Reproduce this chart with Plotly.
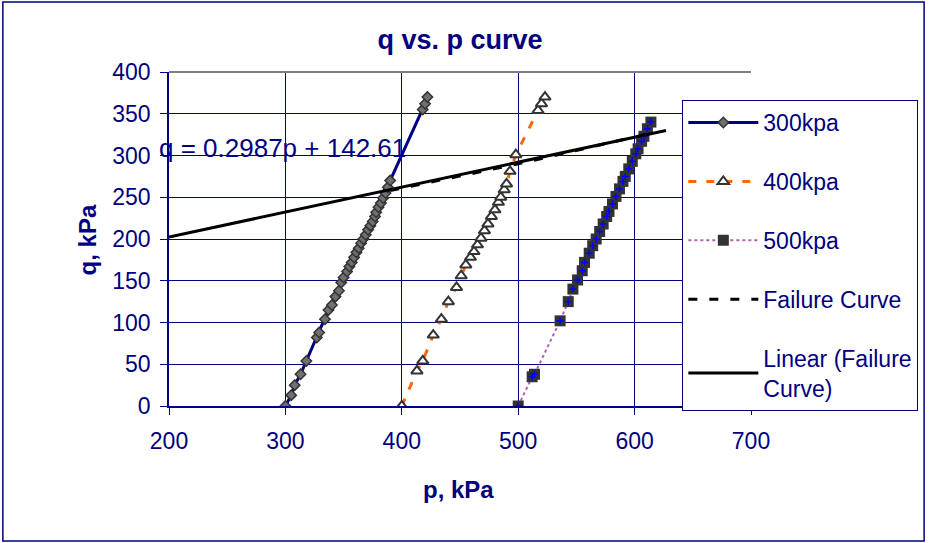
import plotly.graph_objects as go

NAVY = "#000080"
FONT = "Liberation Sans, Arial, sans-serif"

# 300 kPa stress path
p_300 = [300, 305, 308, 313, 318, 327, 329, 334, 337, 340, 343, 346, 348, 350, 353,
         355, 357, 359, 361, 363, 365, 367, 369, 371, 373, 375, 377, 378, 380, 382,
         384, 386, 388, 390, 418, 420, 422]
q_300 = [0, 13, 25, 38, 54, 82, 88, 104, 115, 121, 131, 138, 148, 154, 161,
         167, 172, 178, 184, 189, 195, 200, 205, 211, 216, 221, 227, 232, 238, 243,
         249, 255, 262, 270, 355, 362, 370]

# 400 kPa stress path
p_400 = [400, 413, 418, 427, 434, 440, 447, 451, 455, 459, 462, 465, 468, 471, 474,
         477, 480, 483, 485, 488, 490, 493, 498, 517, 520, 523]
q_400 = [0, 42, 54, 85, 104, 125, 142, 156, 169, 178, 185, 193, 201, 210, 218,
         227, 235, 244, 250, 259, 266, 281, 301, 354, 362, 370]

# 500 kPa stress path
p_500 = [500, 512, 514, 536, 543, 547, 551, 555, 557, 561, 564, 567, 570, 573, 576,
         578, 581, 584, 587, 590, 592, 595, 598, 601, 603, 606, 608, 611, 614]
q_500 = [0, 35, 38, 102, 125, 140, 151, 162, 172, 183, 192, 200, 209, 218, 227,
         233, 242, 251, 260, 269, 275, 284, 293, 302, 308, 317, 323, 332, 340]

# failure points and their linear trend line (end points)
p_fail = [390, 500, 615]
q_fail = [258, 290, 327]
p_trend = [200, 627]
q_trend = [202.35, 329.9]

x_ticks = [200, 300, 400, 500, 600, 700]
y_ticks = [0, 50, 100, 150, 200, 250, 300, 350, 400]

fig = go.Figure()

fig.add_trace(go.Scatter(
    x=p_300, y=q_300, name="300kpa", mode="lines+markers", legendgroup="a",
    line=dict(color=NAVY, width=3),
    marker=dict(symbol="diamond", size=8, color="#707070", line=dict(color="#333333", width=1.5)),
))
fig.add_trace(go.Scatter(
    x=p_400, y=q_400, name="400kpa", mode="lines+markers", legendgroup="b",
    line=dict(color="#FF6600", width=3, dash="8px,10px"),
    marker=dict(symbol="triangle-up", size=10, color="white", line=dict(color="#333333", width=2)),
))
fig.add_trace(go.Scatter(
    x=p_500, y=q_500, name="500kpa", mode="lines+markers", legendgroup="c",
    line=dict(color="#B060B0", width=2, dash="dot"),
    marker=dict(symbol="square", size=11, color="#333333", line=dict(color="#333333", width=0)),
))
fig.add_trace(go.Scatter(
    x=p_500, y=q_500, mode="markers", legendgroup="c", showlegend=False, hoverinfo="skip",
    marker=dict(symbol="cross-thin", size=5, line=dict(color="#0000FF", width=1.5)),
))
fig.add_trace(go.Scatter(
    x=p_fail, y=q_fail, name="Failure Curve", mode="lines", legendgroup="d",
    line=dict(color="black", width=3, dash="9px,12px"),
))
fig.add_trace(go.Scatter(
    x=p_trend, y=q_trend, name="Linear (Failure<br>Curve)", mode="lines", legendgroup="e",
    line=dict(color="black", width=3),
))

axis_common = dict(
    showgrid=True, gridcolor=NAVY, gridwidth=1,
    showline=True, linecolor=NAVY, linewidth=1.5,
    ticks="outside", ticklen=7, tickcolor=NAVY,
    tickfont=dict(family=FONT, size=23, color=NAVY),
    zeroline=False,
)
fig.update_xaxes(range=[200, 700], tickvals=x_ticks, ticklabelstandoff=7, **axis_common)
fig.update_yaxes(range=[0, 400], tickvals=y_ticks, ticklabelstandoff=5, **axis_common)

fig.update_layout(
    width=930, height=543,
    margin=dict(l=169, r=176, t=72, b=137),
    plot_bgcolor="white", paper_bgcolor="white",
    font=dict(family=FONT, color=NAVY),
    title=dict(text="<b>q vs. p curve</b>", x=0.5, xref="paper", xanchor="center",
               y=1 - 40 / 543, yref="container", yanchor="middle",
               font=dict(family=FONT, size=27, color=NAVY)),
    legend=dict(x=0.882, y=0.916, xanchor="left", yanchor="top",
                bgcolor="white", bordercolor=NAVY, borderwidth=1,
                font=dict(family=FONT, size=23, color=NAVY),
                itemwidth=70, tracegroupgap=26, traceorder="grouped"),
    annotations=[
        dict(text="q = 0.2987p + 142.61", xref="paper", yref="paper", x=-0.02, y=0.772,
             xanchor="left", yanchor="middle", showarrow=False,
             font=dict(family=FONT, size=26, color=NAVY)),
        dict(text="<b>p, kPa</b>", xref="paper", yref="paper", x=(460 - 169) / 585, y=(406 - 489) / 334,
             xanchor="center", yanchor="middle", showarrow=False,
             font=dict(family=FONT, size=24, color=NAVY)),
        dict(text="<b>q, kPa</b>", xref="paper", yref="paper", x=(87 - 169) / 585, y=(406 - 240) / 334,
             xanchor="center", yanchor="middle", textangle=-90, showarrow=False,
             font=dict(family=FONT, size=24, color=NAVY)),
    ],
    shapes=[
        dict(type="line", xref="paper", yref="paper", x0=0, x1=1, y0=1, y1=1,
             line=dict(color="#808080", width=2)),
        dict(type="rect", xref="paper", yref="paper",
             x0=(2 - 169) / 585, x1=(928 - 169) / 585, y0=(406 - 541) / 334, y1=(406 - 2) / 334,
             line=dict(color=NAVY, width=1.5)),
    ],
)

# drop the browser's default body margin so the figure sits at the page origin
fig.write_html("out.html", config={"displayModeBar": False},
               post_script="document.body.style.margin='0';")
